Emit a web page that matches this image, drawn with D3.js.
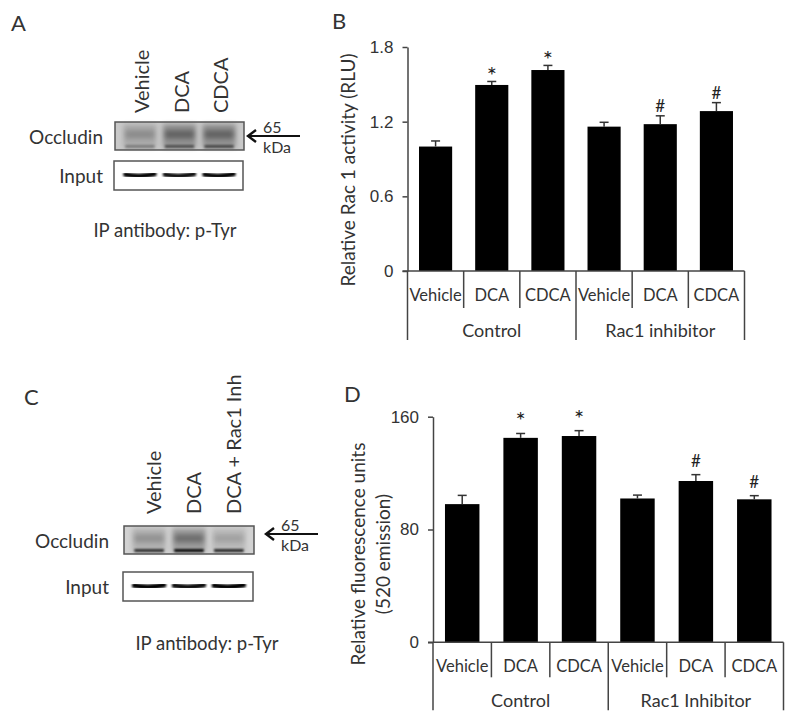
<!DOCTYPE html>
<html>
<head>
<meta charset="utf-8">
<script src="https://cdn.jsdelivr.net/npm/d3@7"></script>
<style>
  body { margin: 0; background: #fff; }
  svg { display: block; font-family: "Lato", "Open Sans", sans-serif; }
  text { fill: #333; }
  .axis path, .axis line { stroke: #444; stroke-width: 1.5px; }
  .axis text { font-size: 17px; fill: #333; }
</style>
</head>
<body>
<script>
// bar charts (B and D)
const categories = ["Vehicle", "DCA", "CDCA", "Vehicle", "DCA", "CDCA"];
const groupsB = ["Control", "Rac1 inhibitor"];
const groupsD = ["Control", "Rac1 Inhibitor"];
const rac1Values = [1.0, 1.495, 1.615, 1.16, 1.18, 1.285];
const rac1Errors = [0.045, 0.028, 0.037, 0.035, 0.067, 0.068];
const rac1Ticks = [0, 0.6, 1.2, 1.8];
const fluoValues = [98, 145, 146.3, 102, 114.4, 101.4];
const fluoErrors = [6.2, 3.1, 3.8, 2.4, 4.5, 2.6];
const fluoTicks = [0, 80, 160];
const sigMarks = ["", "*", "*", "", "#", "#"];

// western blots (A and C), band intensities 0..1
const lanesA = ["Vehicle", "DCA", "CDCA"];
const lanesC = ["Vehicle", "DCA", "DCA + Rac1 Inh"];
const occludinA = [0.3, 0.55, 0.55];
const occludinBottomA = [0.3, 0.5, 0.55];
const inputA = [1, 0.95, 1];
const occludinC = [0.3, 0.5, 0.22];
const occludinBottomC = [0.75, 0.95, 0.8];
const inputC = [1, 0.95, 1];

const svg = d3.select("body").append("svg")
  .attr("width", 800)
  .attr("height", 718);

const defs = svg.append("defs");
defs.append("filter").attr("id", "blur").attr("x", "-20%").attr("y", "-50%")
  .attr("width", "140%").attr("height", "200%")
  .append("feGaussianBlur").attr("stdDeviation", 1.3);
defs.append("filter").attr("id", "blurSoft").attr("x", "-20%").attr("y", "-50%")
  .attr("width", "140%").attr("height", "200%")
  .append("feGaussianBlur").attr("stdDeviation", 2.5);

function panelLetter(label, x, y) {
  svg.append("text").attr("x", x).attr("y", y)
    .style("font-size", "22px").text(label);
}

function barPanel(cfg) {
  const g = svg.append("g");
  const x = d3.scaleBand()
    .domain(d3.range(cfg.values.length))
    .range([cfg.left, cfg.right])
    .paddingInner(0.41)
    .paddingOuter(0.205);
  const y = d3.scaleLinear().domain([0, cfg.max]).range([cfg.bottom, cfg.top]);

  // bars
  g.selectAll("rect.bar").data(cfg.values).join("rect")
    .attr("class", "bar")
    .attr("x", (d, i) => x(i))
    .attr("y", d => y(d))
    .attr("width", x.bandwidth())
    .attr("height", d => y(0) - y(d))
    .attr("fill", "#000");

  // error bars (upper only)
  const err = g.selectAll("g.err").data(cfg.values).join("g").attr("class", "err")
    .attr("stroke", "#333").attr("stroke-width", 1.5);
  err.append("line")
    .attr("x1", (d, i) => x(i) + x.bandwidth() / 2)
    .attr("x2", (d, i) => x(i) + x.bandwidth() / 2)
    .attr("y1", d => y(d))
    .attr("y2", (d, i) => y(d + cfg.errors[i]));
  err.append("line")
    .attr("x1", (d, i) => x(i) + x.bandwidth() / 2 - 4.5)
    .attr("x2", (d, i) => x(i) + x.bandwidth() / 2 + 4.5)
    .attr("y1", (d, i) => y(d + cfg.errors[i]))
    .attr("y2", (d, i) => y(d + cfg.errors[i]));

  // significance marks
  g.selectAll("text.sig").data(cfg.values).join("text")
    .attr("class", "sig")
    .attr("x", (d, i) => x(i) + x.bandwidth() / 2)
    .attr("y", (d, i) => y(d + cfg.errors[i]) - (sigMarks[i] === "*" ? cfg.starGap : cfg.hashGap))
    .attr("text-anchor", "middle")
    .style("font-size", (d, i) => sigMarks[i] === "*" ? "24px" : "17px")
    .style("fill", "#222")
    .text((d, i) => sigMarks[i]);

  // y axis
  g.append("g").attr("class", "axis")
    .attr("transform", `translate(${cfg.left},0)`)
    .call(d3.axisLeft(y).tickValues(cfg.ticks).tickSize(5).tickSizeOuter(0)
      .tickPadding(9).tickFormat(cfg.format));

  // x axis line and category dividers
  const step = x.step();
  const boundaries = d3.range(cfg.values.length + 1).map(i => cfg.left + i * step);
  g.append("line").attr("class", "axisline")
    .attr("x1", cfg.left - 5).attr("x2", cfg.right)
    .attr("y1", y(0)).attr("y2", y(0))
    .attr("stroke", "#444").attr("stroke-width", 1.5);
  g.selectAll("line.div").data(boundaries).join("line")
    .attr("class", "div")
    .attr("x1", d => d).attr("x2", d => d)
    .attr("y1", y(0))
    .attr("y2", (d, i) => i % 3 === 0 ? y(0) + cfg.groupDrop : y(0) + cfg.catDrop)
    .attr("stroke", "#444").attr("stroke-width", 1.5);

  g.selectAll("text.cat").data(categories).join("text")
    .attr("class", "cat")
    .attr("x", (d, i) => x(i) + x.bandwidth() / 2)
    .attr("y", y(0) + cfg.catY)
    .attr("text-anchor", "middle")
    .attr("dominant-baseline", "central")
    .style("font-size", "16.5px")
    .text(d => d);

  g.selectAll("text.grp").data(cfg.groups).join("text")
    .attr("class", "grp")
    .attr("x", (d, i) => (boundaries[i * 3] + boundaries[i * 3 + 3]) / 2)
    .attr("y", y(0) + cfg.groupY)
    .attr("text-anchor", "middle")
    .attr("dominant-baseline", "central")
    .style("font-size", "18px")
    .text(d => d);

  // y title
  cfg.title.forEach((t, i) => {
    g.append("text")
      .attr("transform", `translate(${cfg.titleX[i]},${cfg.titleY}) rotate(-90)`)
      .attr("text-anchor", "middle")
      .attr("dominant-baseline", "central")
      .style("font-size", cfg.titleSize)
      .text(t);
  });
}

function blotPanel(cfg) {
  const g = svg.append("g");
  const lane = d3.scaleBand().domain(cfg.lanes).range([cfg.left, cfg.right]).padding(0.26);
  const cx = d => lane(d) + lane.bandwidth() / 2;

  // lane labels
  g.selectAll("text.lane").data(cfg.lanes).join("text")
    .attr("class", "lane")
    .attr("transform", d => `translate(${cx(d) + cfg.labelShift},${cfg.labelBottom}) rotate(-90)`)
    .attr("dominant-baseline", "central")
    .style("font-size", "20px")
    .text(d => d);

  // occludin blot
  const o = g.append("g");
  o.append("rect")
    .attr("x", cfg.left).attr("y", cfg.occTop)
    .attr("width", cfg.right - cfg.left).attr("height", cfg.occH)
    .attr("fill", cfg.occBg);
  o.selectAll("rect.smear").data(cfg.lanes).join("rect")
    .attr("class", "smear")
    .attr("x", d => lane(d) - 2).attr("y", cfg.occTop + 2)
    .attr("width", lane.bandwidth() + 4).attr("height", cfg.occH - 4)
    .attr("fill", "#000")
    .attr("opacity", (d, i) => cfg.occ[i] * 0.5)
    .attr("filter", "url(#blurSoft)");
  o.selectAll("rect.mid").data(cfg.lanes).join("rect")
    .attr("class", "mid")
    .attr("x", d => lane(d)).attr("y", cfg.occTop + cfg.occH * 0.3)
    .attr("width", lane.bandwidth()).attr("height", 8)
    .attr("fill", "#000")
    .attr("opacity", (d, i) => cfg.occ[i] * 0.6)
    .attr("filter", "url(#blurSoft)");
  o.selectAll("rect.low").data(cfg.lanes).join("rect")
    .attr("class", "low")
    .attr("x", d => lane(d)).attr("y", cfg.occTop + cfg.occH - 5)
    .attr("width", lane.bandwidth()).attr("height", 3)
    .attr("fill", "#000")
    .attr("opacity", (d, i) => cfg.occBottom[i])
    .attr("filter", "url(#blur)");
  o.append("rect")
    .attr("x", cfg.left).attr("y", cfg.occTop)
    .attr("width", cfg.right - cfg.left).attr("height", cfg.occH)
    .attr("fill", "none").attr("stroke", "#555").attr("stroke-width", 1.5);

  // input blot
  const inp = g.append("g");
  inp.append("rect")
    .attr("x", cfg.left - 1).attr("y", cfg.inTop)
    .attr("width", cfg.right - cfg.left).attr("height", cfg.inH)
    .attr("fill", "#fff").attr("stroke", "#555").attr("stroke-width", 1.5);
  inp.selectAll("path.band").data(cfg.lanes).join("path")
    .attr("class", "band")
    .attr("d", d => {
      const x0 = lane(d), x1 = lane(d) + lane.bandwidth(), ym = cfg.inTop + cfg.inH / 2;
      return `M${x0},${ym - 1} Q${(x0 + x1) / 2},${ym + 2} ${x1},${ym - 1.5}`;
    })
    .attr("fill", "none")
    .attr("stroke", "#000")
    .attr("stroke-width", cfg.bandW)
    .attr("stroke-linecap", "round")
    .attr("opacity", (d, i) => cfg.input[i])
    .attr("filter", "url(#blur)");

  // side labels
  g.append("text").attr("x", cfg.labelRight).attr("y", cfg.occTop + cfg.occH / 2)
    .attr("text-anchor", "end").attr("dominant-baseline", "central")
    .style("font-size", "19px").text("Occludin");
  g.append("text").attr("x", cfg.labelRight).attr("y", cfg.inTop + cfg.inH / 2)
    .attr("text-anchor", "end").attr("dominant-baseline", "central")
    .style("font-size", "19px").text("Input");

  // 65 kDa marker
  const ay = cfg.arrowY;
  g.append("line").attr("x1", cfg.arrowTip + 1).attr("x2", cfg.arrowTip + 52)
    .attr("y1", ay).attr("y2", ay).attr("stroke", "#111").attr("stroke-width", 2);
  g.append("path")
    .attr("d", `M${cfg.arrowTip + 8},${ay - 6} L${cfg.arrowTip},${ay} L${cfg.arrowTip + 8},${ay + 6}`)
    .attr("fill", "none").attr("stroke", "#111").attr("stroke-width", 2.4);
  g.append("text").attr("x", cfg.arrowTip + 15).attr("y", ay - 10)
    .attr("dominant-baseline", "central").style("font-size", "16px").text("65");
  g.append("text").attr("x", cfg.arrowTip + 15).attr("y", ay + 10)
    .attr("dominant-baseline", "central").style("font-size", "16px").text("kDa");

  g.append("text").attr("x", cfg.captionX).attr("y", cfg.captionY)
    .attr("text-anchor", "middle").attr("dominant-baseline", "central")
    .style("font-size", "18.5px").text("IP antibody: p-Tyr");
}

panelLetter("A", 11, 31);
panelLetter("B", 332, 29);
panelLetter("C", 24, 405);
panelLetter("D", 344, 402);

blotPanel({
  lanes: lanesA, occ: occludinA, occBottom: occludinBottomA, input: inputA,
  occBg: "#c9c9c9",
  left: 115, right: 244, occTop: 122, occH: 28, inTop: 161, inH: 29, bandW: 4.5,
  labelBottom: 113, labelShift: 1, labelRight: 103,
  arrowTip: 248, arrowY: 136, captionX: 165, captionY: 230
});

blotPanel({
  lanes: lanesC, occ: occludinC, occBottom: occludinBottomC, input: inputC,
  occBg: "#d2d2d2",
  left: 124, right: 254, occTop: 526, occH: 28, inTop: 572, inH: 29, bandW: 5,
  labelBottom: 514, labelShift: 4, labelRight: 109,
  arrowTip: 266, arrowY: 534, captionX: 207, captionY: 643
});

barPanel({
  values: rac1Values, errors: rac1Errors, ticks: rac1Ticks, max: 1.8,
  format: d => d === 0 ? "0" : d3.format(".1f")(d),
  left: 407.5, right: 744.5, top: 47, bottom: 271,
  groups: groupsB, catDrop: 37, groupDrop: 69, catY: 24, groupY: 59,
  starGap: -3, hashGap: 4,
  title: ["Relative Rac 1 activity (RLU)"], titleX: [347], titleY: 170, titleSize: "19px"
});

barPanel({
  values: fluoValues, errors: fluoErrors, ticks: fluoTicks, max: 160,
  format: d3.format("d"),
  left: 433, right: 783.5, top: 416.7, bottom: 642.3,
  groups: groupsD, catDrop: 35, groupDrop: 68, catY: 24, groupY: 58,
  starGap: 4, hashGap: 8,
  title: ["Relative fluorescence units", "(520 emission)"], titleX: [357, 382], titleY: 554, titleSize: "19px"
});
</script>
</body>
</html>
